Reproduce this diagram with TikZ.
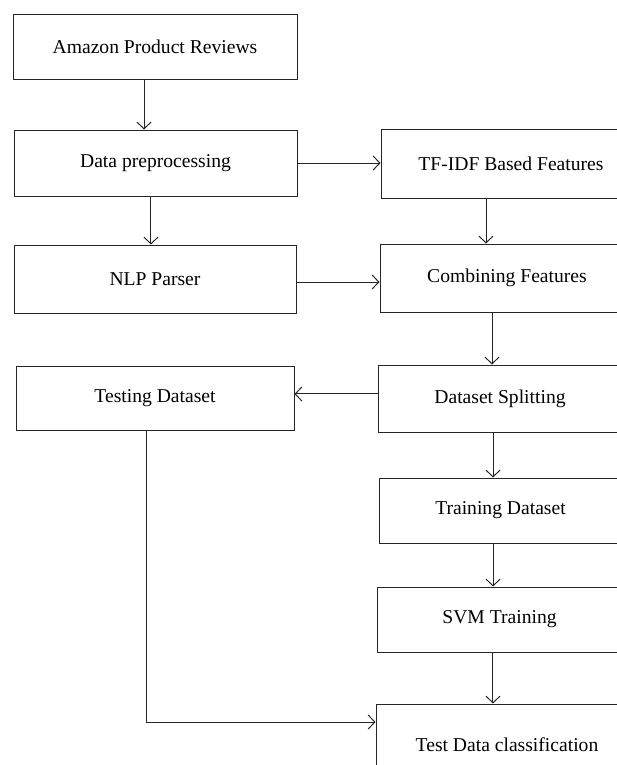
\documentclass[tikz,border=0pt]{standalone}
\usepackage{fontspec}
\setmainfont{Liberation Serif}
\usetikzlibrary{arrows.meta}

\begin{document}
\begin{tikzpicture}
    [x=0.75pt,y=-0.75pt,line width=0.75pt,
     >={Straight Barb[length=5pt,width=10.5pt]},
     every node/.style={draw=black!85,rectangle,font=\fontsize{14.7}{17}\selectfont}]
    \useasboundingbox (0,0) rectangle (617,765);
    \clip (0,0) rectangle (617,765);
    % left column
    \node[minimum width=213pt,minimum height=48.75pt] (amz) at (155,46.5) {Amazon Product Reviews};
    \node[minimum width=212.25pt,minimum height=49.5pt] (prep) at (155.5,163) {Data preprocessing};
    \node[minimum width=211.5pt,minimum height=51pt] (nlp) at (155,279) {NLP Parser};
    \node[minimum width=208.5pt,minimum height=48pt] (tst) at (155,398) {Testing Dataset};
    % right column
    \node[minimum width=195pt,minimum height=51.75pt] (tfidf) at (511,163.5) {TF-IDF Based Features};
    \node[minimum width=190.5pt,minimum height=51pt] (comb) at (507,278) {Combining Features};
    \node[minimum width=183pt,minimum height=50.25pt] (split) at (500,398.5) {Dataset Splitting};
    \node[minimum width=182.25pt,minimum height=48.75pt] (train) at (500.5,510.5) {Training Dataset};
    \node[minimum width=183.75pt,minimum height=48.75pt] (svm) at (499.5,619.5) {SVM Training};
    \node[minimum width=196.5pt,minimum height=61.5pt] (cls) at (507,745) {Test Data classification};
    \coordinate (turn) at (146,722);
    \begin{scope}[draw=black!85]
    \draw[->] ([xshift=-8.25pt]amz.south) -- ([xshift=-8.25pt]amz.south |- prep.north);
    \draw[->] ([xshift=-3.4pt]prep.south) -- ([xshift=-3.4pt]prep.south |- nlp.north);
    \draw[->] (prep.east) -- (prep.east -| tfidf.west);
    \draw[->] ([yshift=-2.25pt]nlp.east) -- ([yshift=-2.25pt]nlp.east -| comb.west);
    \draw[->] ([xshift=-18.75pt]tfidf.south) -- ([xshift=-18.75pt]tfidf.south |- comb.north);
    \draw[->] ([xshift=-11.25pt]comb.south) -- ([xshift=-11.25pt]comb.south |- split.north);
    \draw[->] ([yshift=3.4pt]split.west) -- ([yshift=3.4pt]split.west -| tst.east);
    \draw[->] ([xshift=-5.25pt]split.south) -- ([xshift=-5.25pt]split.south |- train.north);
    \draw[->] ([xshift=-5.6pt]train.south) -- ([xshift=-5.6pt]train.south |- svm.north);
    \draw[->] ([xshift=-4.9pt]svm.south) -- ([xshift=-4.9pt]svm.south |- cls.north);
    \draw[->] (tst.south -| turn) -- (turn) -- (turn -| cls.west);
    \end{scope}
  \end{tikzpicture}
\end{document}
